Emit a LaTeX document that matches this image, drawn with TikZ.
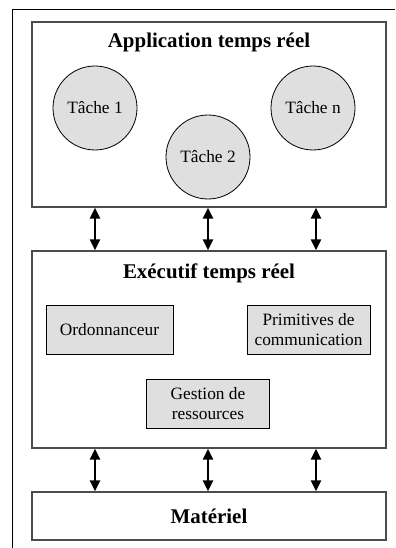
\documentclass[tikz,border=0pt]{standalone}
\usepackage{fontspec}
\setmainfont{Liberation Serif}
\usetikzlibrary{arrows.meta, positioning, calc}

\tikzset{
  bloc/.style={draw=gray!60!black, line width=1.3bp, fill=white, inner sep=0pt},
  tache/.style={circle, draw=black, line width=0.8bp, fill=gray!25, minimum size=84bp, inner sep=0pt, font=\fontsize{17.4}{20}\selectfont},
  module/.style={draw=black, line width=0.8bp, fill=gray!25, minimum width=123bp, minimum height=49bp, inner sep=0pt, align=center, font=\fontsize{17.4}{20}\selectfont},
  titre/.style={font=\fontsize{21}{24}\selectfont\bfseries},
  lien/.style={{Triangle[length=11bp,width=10bp]}-{Triangle[length=11bp,width=10bp]}, line width=2.2bp, black}
}

\begin{document}
\begin{tikzpicture}[x=1bp, y=-1bp]
    \useasboundingbox (0,0) rectangle (395,548);

    % cadre
    \draw[line width=1bp] (395,10) -- (12,10) -- (12,548);

    % application
    \node[bloc, minimum width=354bp, minimum height=185bp] (app) at (209,114.5) {};
    \node[titre] (apptitre) at (209,42) {Application temps réel};
    \node[tache] (t1) at (95,108) {Tâche 1};
    \node[tache] (t2) at (208,157) {Tâche 2};
    \node[tache] (tn) at (313,108) {Tâche n};

    % executif
    \node[bloc, minimum width=354bp, minimum height=197bp] (exec) at (209,349.5) {};
    \node[titre] (exectitre) at (209,273) {Exécutif temps réel};
    \node[module, minimum width=127bp] (ordo) at (109.5,329.5) {Ordonnanceur};
    \node[module] (prim) at (308.5,329.5) {Primitives de\\communication};
    \node[module] (gest) at (208,403.5) {Gestion de\\ressources};

    % materiel
    \node[bloc, minimum width=354bp, minimum height=48bp] (mat) at (209,516) {};
    \node[titre] (mattitre) at (209,516) {Matériel};

    % liens
    \foreach \x in {95,208,316} {
      \draw[lien] (app.south -| \x,0) -- (exec.north -| \x,0);
      \draw[lien] (exec.south -| \x,0) -- (mat.north -| \x,0);
    }
\end{tikzpicture}
\end{document}
